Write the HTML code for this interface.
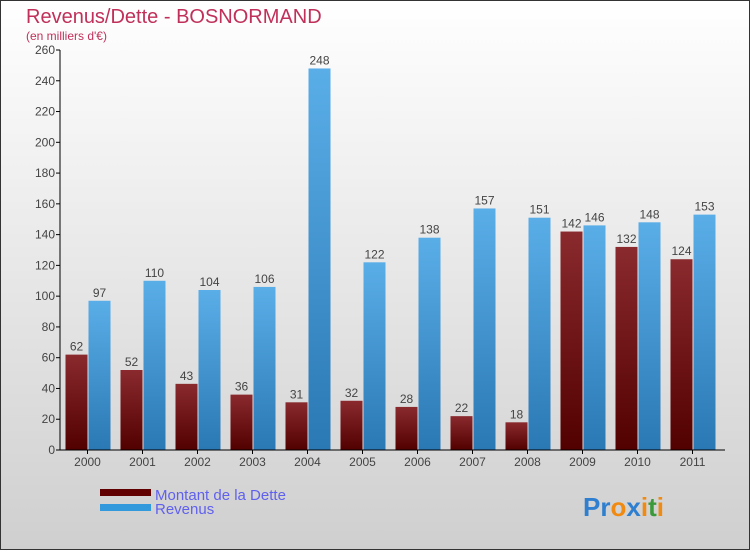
<!DOCTYPE html>
<html><head><meta charset="utf-8"><style>
html,body{margin:0;padding:0}
body{width:750px;height:550px;overflow:hidden;font-family:"Liberation Sans",sans-serif}
</style></head><body>
<svg id="chart" width="750" height="550" xmlns="http://www.w3.org/2000/svg">
<defs>
<linearGradient id="bg" x1="0" y1="0" x2="0" y2="1"><stop offset="0" stop-color="#ffffff"/><stop offset="1" stop-color="#cfcfcf"/></linearGradient>
<linearGradient id="gd" x1="0" y1="0" x2="0" y2="1"><stop offset="0" stop-color="#8a2a2e"/><stop offset="1" stop-color="#520000"/></linearGradient>
<linearGradient id="gr" x1="0" y1="0" x2="0" y2="1"><stop offset="0" stop-color="#5aaee8"/><stop offset="1" stop-color="#2a78b4"/></linearGradient>
</defs>
<rect x="0.5" y="0.5" width="749" height="549" fill="url(#bg)" stroke="#333"/>
<text x="26" y="23" font-size="20" fill="#c0305a">Revenus/Dette - BOSNORMAND</text>
<text x="26" y="40" font-size="12" fill="#c0305a">(en milliers d'€)</text>
<g id="grid"></g><g id="bars"></g><g id="axes"></g>
<g>
<rect x="100" y="489" width="51" height="7" fill="#600000"/>
<text x="155" y="500" font-size="15" fill="#6060ee">Montant de la Dette</text>
<rect x="100" y="504" width="51" height="7" fill="#3399dd"/>
<text x="155" y="514" font-size="15" fill="#6060ee">Revenus</text>
</g>
<text x="583" y="516" font-size="26" font-weight="bold"><tspan fill="#2f7fd0">Pr</tspan><tspan fill="#f08a10">o</tspan><tspan fill="#2f7fd0">x</tspan><tspan fill="#f08a10">i</tspan><tspan fill="#3a9a3a">t</tspan><tspan fill="#f08a10">i</tspan></text>
</svg>
<script>
const years=["2000","2001","2002","2003","2004","2005","2006","2007","2008","2009","2010","2011"];
const dette=[62,52,43,36,31,32,28,22,18,142,132,124];
const revenus=[97,110,104,106,248,122,138,157,151,146,148,153];
const ticks=[0,20,40,60,80,100,120,140,160,180,200,220,240,260];
const NS="http://www.w3.org/2000/svg";
const x0=60,step=55,y0=450,ymax=260,ph=400,bw=22;
const y=v=>y0-v/ymax*ph;
const xc=i=>x0+27.5+step*i;
function mk(t,a,p){const e=document.createElementNS(NS,t);for(const k in a)e.setAttribute(k,a[k]);p.appendChild(e);return e;}
const axes=document.getElementById('axes'),bars=document.getElementById('bars');
ticks.forEach(t=>{
 const l=mk('line',{x1:x0-4,x2:x0,y1:y(t),y2:y(t),stroke:'#000'},axes);
 
 
 const tx=mk('text',{x:x0-5,y:y(t)+4,'text-anchor':'end','font-size':12,fill:'#444'},axes);
 tx.textContent=t;
 
 
});
years.forEach((yr,i)=>{
 const c=xc(i);
 const bd=mk('rect',{x:c-bw,y:y(dette[i]),width:bw,height:y0-y(dette[i]),fill:'url(#gd)'},bars);
 
 
 const br=mk('rect',{x:c+1,y:y(revenus[i]),width:bw,height:y0-y(revenus[i]),fill:'url(#gr)'},bars);
 
 
 const ld=mk('text',{x:c-bw/2,y:y(dette[i])-4,'text-anchor':'middle','font-size':12,fill:'#444'},bars);
 ld.textContent=dette[i];
 
 
 const lr=mk('text',{x:c+1+bw/2,y:y(revenus[i])-4,'text-anchor':'middle','font-size':12,fill:'#444'},bars);
 lr.textContent=revenus[i];
 
 
 const tk=mk('line',{x1:c,x2:c,y1:y0,y2:y0+4,stroke:'#000'},axes);
 
 
 const xl=mk('text',{x:c,y:y0+16,'text-anchor':'middle','font-size':12,fill:'#444'},axes);
 xl.textContent=yr;
 
 
});
const ya=mk('line',{x1:x0,x2:x0,y1:y(ymax),y2:y0,stroke:'#000'},axes);


const xa=mk('line',{x1:x0,x2:x0+step*12+5,y1:y0,y2:y0,stroke:'#000'},axes);


</script>
</body></html>
